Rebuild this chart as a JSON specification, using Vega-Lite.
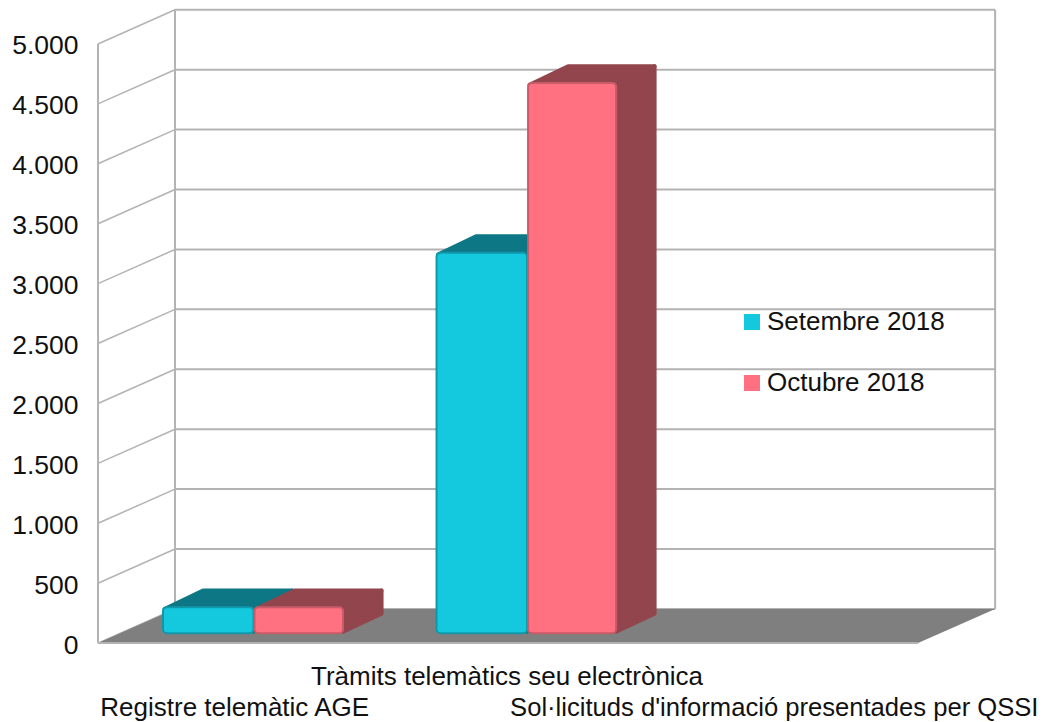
{
"$schema":"https://vega.github.io/schema/vega-lite/v6.json",
"width":1063,"height":722,"padding":0,
"autosize":{"type":"fit","contains":"padding"},
"background":"#ffffff",
"config":{"view":{"stroke":null},"font":"Liberation Sans"},
"resolve":{"axis":{"y":"independent"}},
"datasets":{
"floor":[{"x":0,"y":0,"y2":0},{"x":0.2817,"y":285,"y2":0},{"x":3,"y":285,"y2":0},{"x":3.2817,"y":285,"y2":285}],
"grid":[{"v":0,"back":285},{"v":500,"back":785},{"v":1000,"back":1285},{"v":1500,"back":1785},{"v":2000,"back":2285},{"v":2500,"back":2785},{"v":3000,"back":3285},{"v":3500,"back":3785},{"v":4000,"back":4285},{"v":4500,"back":4785},{"v":5000,"back":5285}],
"walls":[{"x":0,"y":0,"y2":5000},{"x":0.2817,"y":285,"y2":5285},{"x":3.2817,"y":285,"y2":5285}],
"faces":[
{"series":"Setembre 2018","bar":"a-top","x":0.243,"y":285,"y2":285},{"series":"Setembre 2018","bar":"a-top","x":0.3841,"y":438,"y2":285},{"series":"Setembre 2018","bar":"a-top","x":0.5689,"y":438,"y2":285},{"series":"Setembre 2018","bar":"a-top","x":0.7097,"y":438,"y2":438},
{"series":"Setembre 2018","bar":"a-side","x":0.5689,"y":285,"y2":95},{"series":"Setembre 2018","bar":"a-side","x":0.7097,"y":438,"y2":245},
{"series":"Setembre 2018","bar":"b-top","x":1.2436,"y":3243,"y2":3243},{"series":"Setembre 2018","bar":"b-top","x":1.3847,"y":3396,"y2":3243},{"series":"Setembre 2018","bar":"b-top","x":1.5695,"y":3396,"y2":3243},{"series":"Setembre 2018","bar":"b-top","x":1.7103,"y":3396,"y2":3396},
{"series":"Setembre 2018","bar":"b-side","x":1.5695,"y":3243,"y2":95},{"series":"Setembre 2018","bar":"b-side","x":1.7103,"y":3396,"y2":245},
{"series":"Octubre 2018","bar":"a-top","x":0.5776,"y":285,"y2":285},{"series":"Octubre 2018","bar":"a-top","x":0.7189,"y":438,"y2":285},{"series":"Octubre 2018","bar":"a-top","x":0.8964,"y":438,"y2":285},{"series":"Octubre 2018","bar":"a-top","x":1.0372,"y":438,"y2":438},
{"series":"Octubre 2018","bar":"a-side","x":0.8964,"y":285,"y2":95},{"series":"Octubre 2018","bar":"a-side","x":1.0372,"y":438,"y2":245},
{"series":"Octubre 2018","bar":"b-top","x":1.5782,"y":4660,"y2":4660},{"series":"Octubre 2018","bar":"b-top","x":1.7195,"y":4813,"y2":4660},{"series":"Octubre 2018","bar":"b-top","x":1.8952,"y":4813,"y2":4660},{"series":"Octubre 2018","bar":"b-top","x":2.036,"y":4813,"y2":4813},
{"series":"Octubre 2018","bar":"b-side","x":1.8952,"y":4660,"y2":95},{"series":"Octubre 2018","bar":"b-side","x":2.036,"y":4813,"y2":245}
],
"bars":[
{"series":"Setembre 2018","category":"Registre telemàtic AGE","value":217,"x":0.2378,"x2":0.5689,"base":83,"top":300},
{"series":"Octubre 2018","category":"Registre telemàtic AGE","value":217,"x":0.5726,"x2":0.8964,"base":83,"top":300},
{"series":"Setembre 2018","category":"Tràmits telemàtics seu electrònica","value":3175,"x":1.2384,"x2":1.5695,"base":83,"top":3258},
{"series":"Octubre 2018","category":"Tràmits telemàtics seu electrònica","value":4592,"x":1.5732,"x2":1.8952,"base":83,"top":4675}
],
"labels":[{"t":"Registre telemàtic AGE","x":0.5,"y":-606},{"t":"Tràmits telemàtics seu electrònica","x":1.4963,"y":-350}],
"labelsLong":[{"t":"Sol·licituds d'informació presentades per QSSI","x":2.4738,"y":-606}]
},
"layer":[
{"data":{"name":"grid"},"mark":{"type":"rule","color":"#b3b3b3","strokeWidth":2},
 "encoding":{"x":{"datum":0.2817,"type":"quantitative","scale":{"domain":[-0.3585,3.53],"nice":false,"zero":false},"axis":null},"x2":{"datum":3.2817},
 "y":{"field":"back","type":"quantitative","scale":{"domain":[-650,5366.67],"nice":false,"zero":false},"axis":null}}},
{"data":{"name":"grid"},"mark":{"type":"rule","color":"#b3b3b3","strokeWidth":1.5},
 "encoding":{"x":{"datum":0,"type":"quantitative","scale":{"domain":[-0.3585,3.53],"nice":false,"zero":false},"axis":null},"x2":{"datum":0.2817},
 "y":{"field":"v","type":"quantitative","scale":{"domain":[-650,5366.67],"nice":false,"zero":false},
   "axis":{"title":null,"grid":false,"domain":false,"ticks":false,"offset":-88,"values":[0,500,1000,1500,2000,2500,3000,3500,4000,4500,5000],"labelExpr":"replace(format(datum.value,','),',','.')","labelFontSize":26.5,"labelFont":"Liberation Sans","labelColor":"#111111","labelPadding":10,"labelOffset":2}},
 "y2":{"field":"back"}}},
{"data":{"name":"walls"},"mark":{"type":"rule","color":"#b3b3b3","strokeWidth":2},
 "encoding":{"x":{"field":"x","type":"quantitative","scale":{"domain":[-0.3585,3.53],"nice":false,"zero":false},"axis":null},
 "y":{"field":"y","type":"quantitative","scale":{"domain":[-650,5366.67],"nice":false,"zero":false},"axis":null},"y2":{"field":"y2"}}},
{"data":{"name":"floor"},"mark":{"type":"area","color":"#7f7f7f"},
 "encoding":{"x":{"field":"x","type":"quantitative","scale":{"domain":[-0.3585,3.53],"nice":false,"zero":false},"axis":null},
 "y":{"field":"y","type":"quantitative","scale":{"domain":[-650,5366.67],"nice":false,"zero":false},"axis":null},"y2":{"field":"y2"}}},
{"data":{"name":"grid"},"transform":[{"filter":"datum.v === 0"}],"mark":{"type":"rule","color":"#b3b3b3","strokeWidth":2},
 "encoding":{"x":{"datum":0,"type":"quantitative","scale":{"domain":[-0.3585,3.53],"nice":false,"zero":false},"axis":null},"x2":{"datum":3},
 "y":{"field":"v","type":"quantitative","scale":{"domain":[-650,5366.67],"nice":false,"zero":false},"axis":null}}},
{"data":{"name":"faces"},"transform":[{"filter":"datum.series === 'Setembre 2018'"}],"mark":{"type":"area","color":"#0d7785","stroke":"#0d7785","strokeWidth":4,"strokeJoin":"round"},
 "encoding":{"detail":{"field":"bar"},"x":{"field":"x","type":"quantitative","scale":{"domain":[-0.3585,3.53],"nice":false,"zero":false},"axis":null},
 "y":{"field":"y","type":"quantitative","scale":{"domain":[-650,5366.67],"nice":false,"zero":false},"axis":null},"y2":{"field":"y2"}}},
{"data":{"name":"bars"},"transform":[{"filter":"datum.series === 'Setembre 2018'"}],"mark":{"type":"rect","stroke":"#1098aa","strokeWidth":2,"cornerRadius":4},
 "encoding":{"x":{"field":"x","type":"quantitative","scale":{"domain":[-0.3585,3.53],"nice":false,"zero":false},"axis":null},"x2":{"field":"x2"},
 "y":{"field":"top","type":"quantitative","scale":{"domain":[-650,5366.67],"nice":false,"zero":false},"axis":null},"y2":{"field":"base"},
 "color":{"field":"series","type":"nominal","sort":null,"scale":{"domain":["Setembre 2018","Octubre 2018"],"range":["#14c8de","#ff7080"]},
  "legend":{"title":null,"orient":"none","legendX":739,"legendY":309,"symbolType":"square","symbolSize":256,"symbolStrokeWidth":0,"symbolOpacity":1,"labelFontSize":26,"labelFont":"Liberation Sans","labelColor":"#111111","labelLimit":400,"rowPadding":35,"labelOffset":2}}}},
{"data":{"name":"faces"},"transform":[{"filter":"datum.series === 'Octubre 2018'"}],"mark":{"type":"area","color":"#92454c","stroke":"#92454c","strokeWidth":4,"strokeJoin":"round"},
 "encoding":{"detail":{"field":"bar"},"x":{"field":"x","type":"quantitative","scale":{"domain":[-0.3585,3.53],"nice":false,"zero":false},"axis":null},
 "y":{"field":"y","type":"quantitative","scale":{"domain":[-650,5366.67],"nice":false,"zero":false},"axis":null},"y2":{"field":"y2"}}},
{"data":{"name":"bars"},"transform":[{"filter":"datum.series === 'Octubre 2018'"}],"mark":{"type":"rect","stroke":"#c75c68","strokeWidth":2,"cornerRadius":4},
 "encoding":{"x":{"field":"x","type":"quantitative","scale":{"domain":[-0.3585,3.53],"nice":false,"zero":false},"axis":null},"x2":{"field":"x2"},
 "y":{"field":"top","type":"quantitative","scale":{"domain":[-650,5366.67],"nice":false,"zero":false},"axis":null},"y2":{"field":"base"},
 "color":{"field":"series","type":"nominal","sort":null,"scale":{"domain":["Setembre 2018","Octubre 2018"],"range":["#14c8de","#ff7080"]},
  "legend":{"title":null,"orient":"none","legendX":739,"legendY":309,"symbolType":"square","symbolSize":256,"symbolStrokeWidth":0,"symbolOpacity":1,"labelFontSize":26,"labelFont":"Liberation Sans","labelColor":"#111111","labelLimit":400,"rowPadding":35,"labelOffset":2}}}},
{"data":{"name":"labels"},"mark":{"type":"text","font":"Liberation Sans","fontSize":26,"color":"#111111","align":"center","baseline":"alphabetic"},
 "encoding":{"text":{"field":"t"},"x":{"field":"x","type":"quantitative","scale":{"domain":[-0.3585,3.53],"nice":false,"zero":false},"axis":null},
 "y":{"field":"y","type":"quantitative","scale":{"domain":[-650,5366.67],"nice":false,"zero":false},"axis":null}}},
{"data":{"name":"labelsLong"},"mark":{"type":"text","font":"Liberation Sans","fontSize":25.6,"color":"#111111","align":"center","baseline":"alphabetic"},
 "encoding":{"text":{"field":"t"},"x":{"field":"x","type":"quantitative","scale":{"domain":[-0.3585,3.53],"nice":false,"zero":false},"axis":null},
 "y":{"field":"y","type":"quantitative","scale":{"domain":[-650,5366.67],"nice":false,"zero":false},"axis":null}}}
]
}
